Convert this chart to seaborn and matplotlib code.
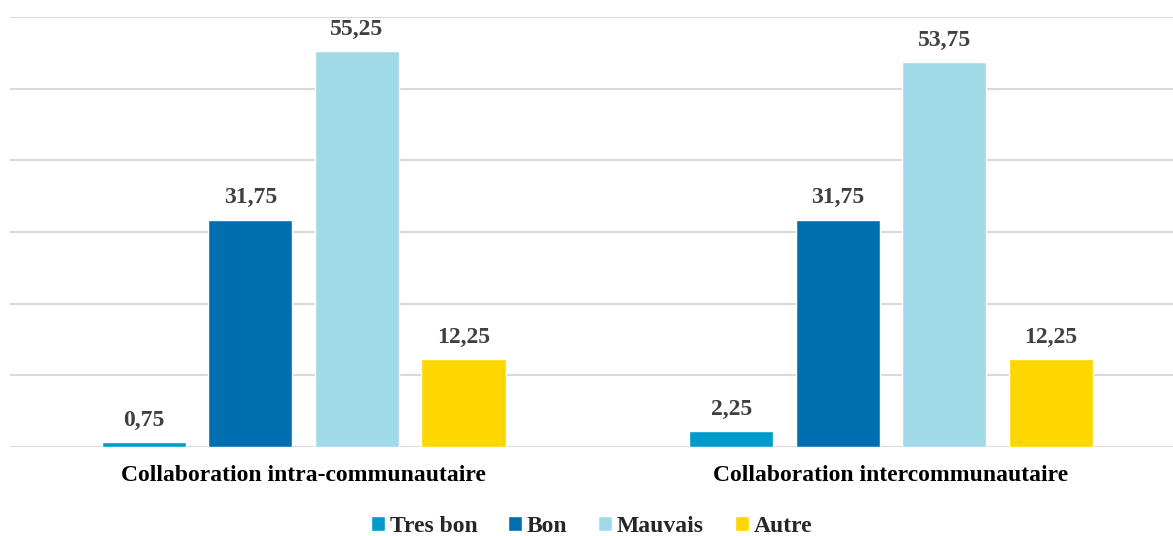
import matplotlib.pyplot as plt
import seaborn as sns
import pandas as pd

groups = ['Collaboration intra-communautaire', 'Collaboration intercommunautaire']
levels = ['Tres bon', 'Bon', 'Mauvais', 'Autre']
tres_bon = [0.75, 2.25]
bon = [31.75, 31.75]
mauvais = [55.25, 53.75]
autre = [12.25, 12.25]
colors = ['#009BCB', '#006FB0', '#A0D9E8', '#FFD700']

df = pd.DataFrame({
    'groupe': groups * 4,
    'niveau': [l for l in levels for _ in groups],
    'valeur': tres_bon + bon + mauvais + autre,
})

sns.set_theme(style='white')
plt.rcParams['font.family'] = ['Liberation Serif', 'DejaVu Serif']

fig, ax = plt.subplots(figsize=(11.73, 5.36), dpi=100)
fig.subplots_adjust(left=0.0085, right=1.0, top=0.968, bottom=0.166)

sns.barplot(data=df, x='groupe', y='valeur', hue='niveau', hue_order=levels,
            palette=colors, width=0.726, gap=0.21, ax=ax, saturation=1, legend=True)

for cont in ax.containers:
    labels = [f'{v:.2f}'.replace('.', ',') for v in cont.datavalues]
    ax.bar_label(cont, labels=labels, padding=8, fontsize=17, fontweight='bold', color='#404040')

ax.set_ylim(0, 60)
ax.set_xlim(-0.5, 1.48)
ax.set_yticks(range(0, 61, 10))
ax.yaxis.grid(True, color='#D9D9D9', linewidth=1.5)
ax.set_axisbelow(True)
ax.tick_params(axis='y', left=False, labelleft=False)
ax.tick_params(axis='x', bottom=False, pad=7)
for lab in ax.get_xticklabels():
    lab.set_fontweight('bold')
    lab.set_fontsize(17)
    lab.set_color('black')
ax.set_xlabel('')
ax.set_ylabel('')
for s in ['top', 'right', 'left', 'bottom']:
    ax.spines[s].set_visible(False)

ax.legend(loc='center', bbox_to_anchor=(0.5, -0.185), ncol=4, frameon=False,
          prop={'weight': 'bold', 'size': 17}, handlelength=0.6, handleheight=0.6,
          handletextpad=0.2, columnspacing=1.3, borderpad=0)

fig.savefig('out.png', dpi=100)
